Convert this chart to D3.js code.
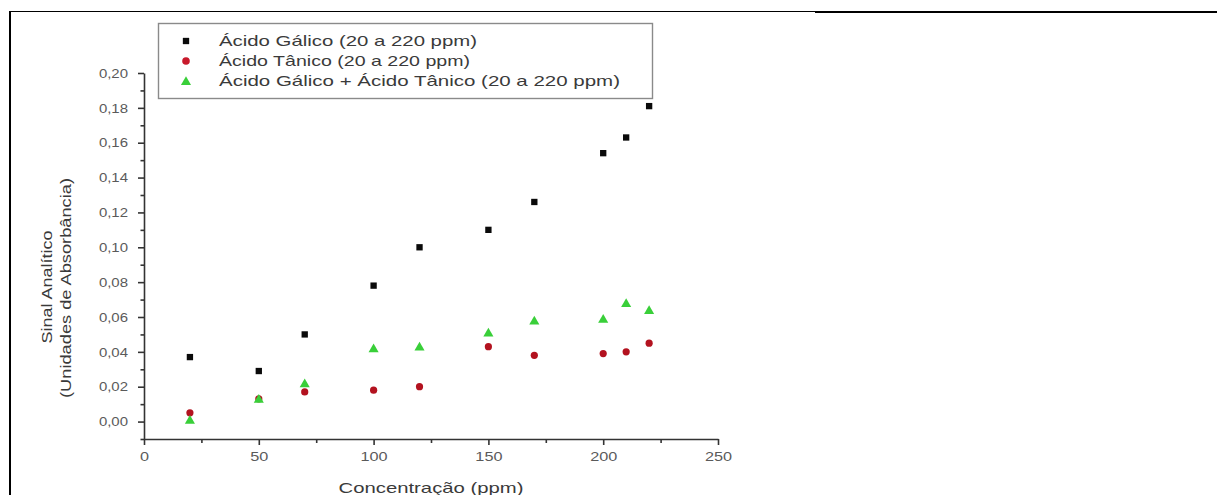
<!DOCTYPE html>
<html><head><meta charset="utf-8">
<script src="https://cdn.jsdelivr.net/npm/d3@7"></script>
<style>
html,body{margin:0;padding:0;background:#fff;}
svg{display:block;font-family:"Liberation Sans",Arial,sans-serif;}
</style></head>
<body>
<svg id="chart" width="1217" height="495"></svg>
<script>
// ---- data ----
const concentration = [20, 50, 70, 100, 120, 150, 170, 200, 210, 220];
const gallic = [0.037, 0.029, 0.050, 0.078, 0.100, 0.110, 0.126, 0.154, 0.163, 0.181];
const tannic = [0.005, 0.013, 0.017, 0.018, 0.020, 0.043, 0.038, 0.039, 0.040, 0.045];
const mixture = [0.001, 0.013, 0.022, 0.042, 0.043, 0.051, 0.058, 0.059, 0.068, 0.064];
const seriesNames = ["Ácido Gálico (20 a 220 ppm)", "Ácido Tânico (20 a 220 ppm)", "Ácido Gálico + Ácido Tânico (20 a 220 ppm)"];
const xMajorTicks = [0, 50, 100, 150, 200, 250];
const xMinorTicks = [25, 75, 125, 175, 225];
const yMajorTicks = [0.00, 0.02, 0.04, 0.06, 0.08, 0.10, 0.12, 0.14, 0.16, 0.18, 0.20];
const yTickLabels = ["0,00", "0,02", "0,04", "0,06", "0,08", "0,10", "0,12", "0,14", "0,16", "0,18", "0,20"];
const yMinorTicks = [-0.01, 0.01, 0.03, 0.05, 0.07, 0.09, 0.11, 0.13, 0.15, 0.17, 0.19];
const xTitle = "Concentração (ppm)";
const yTitle1 = "Sinal Analítico";
const yTitle2 = "(Unidades de Absorbância)";

// ---- layout ----
const svg = d3.select("#chart");
const x = d3.scaleLinear().domain([0, 250]).range([144, 718]);
const y = d3.scaleLinear().domain([-0.01, 0.20]).range([439, 73]);
const textColor = "#3a3a3a";

function fit(sel, w) {
  sel.each(function () {
    this.setAttribute("textLength", w);
    this.setAttribute("lengthAdjust", "spacingAndGlyphs");
  });
}
function stretch(sel, k) {
  sel.each(function () {
    const w = this.getComputedTextLength();
    this.setAttribute("textLength", w * k);
    this.setAttribute("lengthAdjust", "spacingAndGlyphs");
  });
}

// frame lines
svg.append("line").attr("x1", 9).attr("x2", 815).attr("y1", 11.5).attr("y2", 11.5).attr("stroke", "#000").attr("stroke-width", 1.2);
svg.append("line").attr("x1", 815).attr("x2", 1217).attr("y1", 12).attr("y2", 12).attr("stroke", "#000").attr("stroke-width", 2.2);
svg.append("line").attr("x1", 10).attr("x2", 10).attr("y1", 11).attr("y2", 495).attr("stroke", "#000").attr("stroke-width", 2);

// axes
const axColor = "#333";
const gx = svg.append("g").attr("transform", `translate(0,${y(-0.01)})`)
  .call(d3.axisBottom(x).tickValues(xMajorTicks).tickSize(6).tickSizeOuter(0).tickPadding(7).tickFormat(d3.format("d")));
const gxm = svg.append("g").attr("transform", `translate(0,${y(-0.01)})`)
  .call(d3.axisBottom(x).tickValues(xMinorTicks).tickSize(4).tickSizeOuter(0).tickFormat(""));
gxm.select(".domain").remove();
const gy = svg.append("g").attr("transform", `translate(${x(0)},0)`)
  .call(d3.axisLeft(y).tickValues(yMajorTicks).tickSize(6).tickSizeOuter(0).tickPadding(10)
    .tickFormat((d, i) => yTickLabels[i]));
const gym = svg.append("g").attr("transform", `translate(${x(0)},0)`)
  .call(d3.axisLeft(y).tickValues(yMinorTicks).tickSize(3.5).tickSizeOuter(0).tickFormat(""));
gym.select(".domain").remove();
[gx, gxm, gy, gym].forEach(g => {
  g.selectAll("path,line").attr("stroke", axColor).attr("stroke-width", 1.6);
  g.selectAll("text").attr("fill", "#5a5a5a").style("font-size", "13px").style("font-family", '"Liberation Sans",Arial,sans-serif');
});
stretch(gx.selectAll("text"), 1.25);
stretch(gy.selectAll("text"), 1.15);

// axis titles
const xt = svg.append("text").attr("x", 431).attr("y", 493).attr("text-anchor", "middle")
  .attr("fill", textColor).style("font-size", "15px").text(xTitle);
fit(xt, 185);
const yt1 = svg.append("text").attr("transform", "translate(52,287) rotate(-90)").attr("text-anchor", "middle")
  .attr("fill", textColor).style("font-size", "15px").text(yTitle1);
fit(yt1, 113);
const yt2 = svg.append("text").attr("transform", "translate(71,288) rotate(-90)").attr("text-anchor", "middle")
  .attr("fill", textColor).style("font-size", "15px").text(yTitle2);
fit(yt2, 220);

// markers
const cBlack = "#0a0a0a", cRed = "#b3121f", cGreen = "#39cf39";
const sq = d3.symbol().type(d3.symbolSquare).size(40);
const tri = d3.symbol().type(d3.symbolTriangle).size(44);

svg.append("g").selectAll("path").data(concentration).join("path")
  .attr("d", sq).attr("transform", (d, i) => `translate(${x(d)},${y(gallic[i])})`).attr("fill", cBlack);
svg.append("g").selectAll("circle").data(concentration).join("circle")
  .attr("cx", d => x(d)).attr("cy", (d, i) => y(tannic[i])).attr("r", 3.6).attr("fill", cRed);
svg.append("g").selectAll("path").data(concentration).join("path")
  .attr("d", tri).attr("transform", (d, i) => `translate(${x(d)},${y(mixture[i]) + 1})`).attr("fill", cGreen);

// legend
const lg = svg.append("g");
lg.append("rect").attr("x", 158.5).attr("y", 23.5).attr("width", 494).attr("height", 75)
  .attr("fill", "#fff").attr("stroke", "#8a8a8a").attr("stroke-width", 1.4);
const rowY = [41, 61, 81];
const legendW = [258, 251, 401];
lg.append("path").attr("d", sq).attr("transform", `translate(186,${rowY[0]})`).attr("fill", cBlack);
lg.append("circle").attr("cx", 186).attr("cy", rowY[1]).attr("r", 3.8).attr("fill", "#c8192b");
lg.append("path").attr("d", tri).attr("transform", `translate(186,${rowY[2] + 1})`).attr("fill", cGreen);
seriesNames.forEach((s, i) => {
  const t = lg.append("text").attr("x", 219).attr("y", rowY[i]).attr("dy", "0.36em")
    .attr("fill", textColor).style("font-size", "15px").text(s);
  fit(t, legendW[i]);
});
</script>
</body></html>
